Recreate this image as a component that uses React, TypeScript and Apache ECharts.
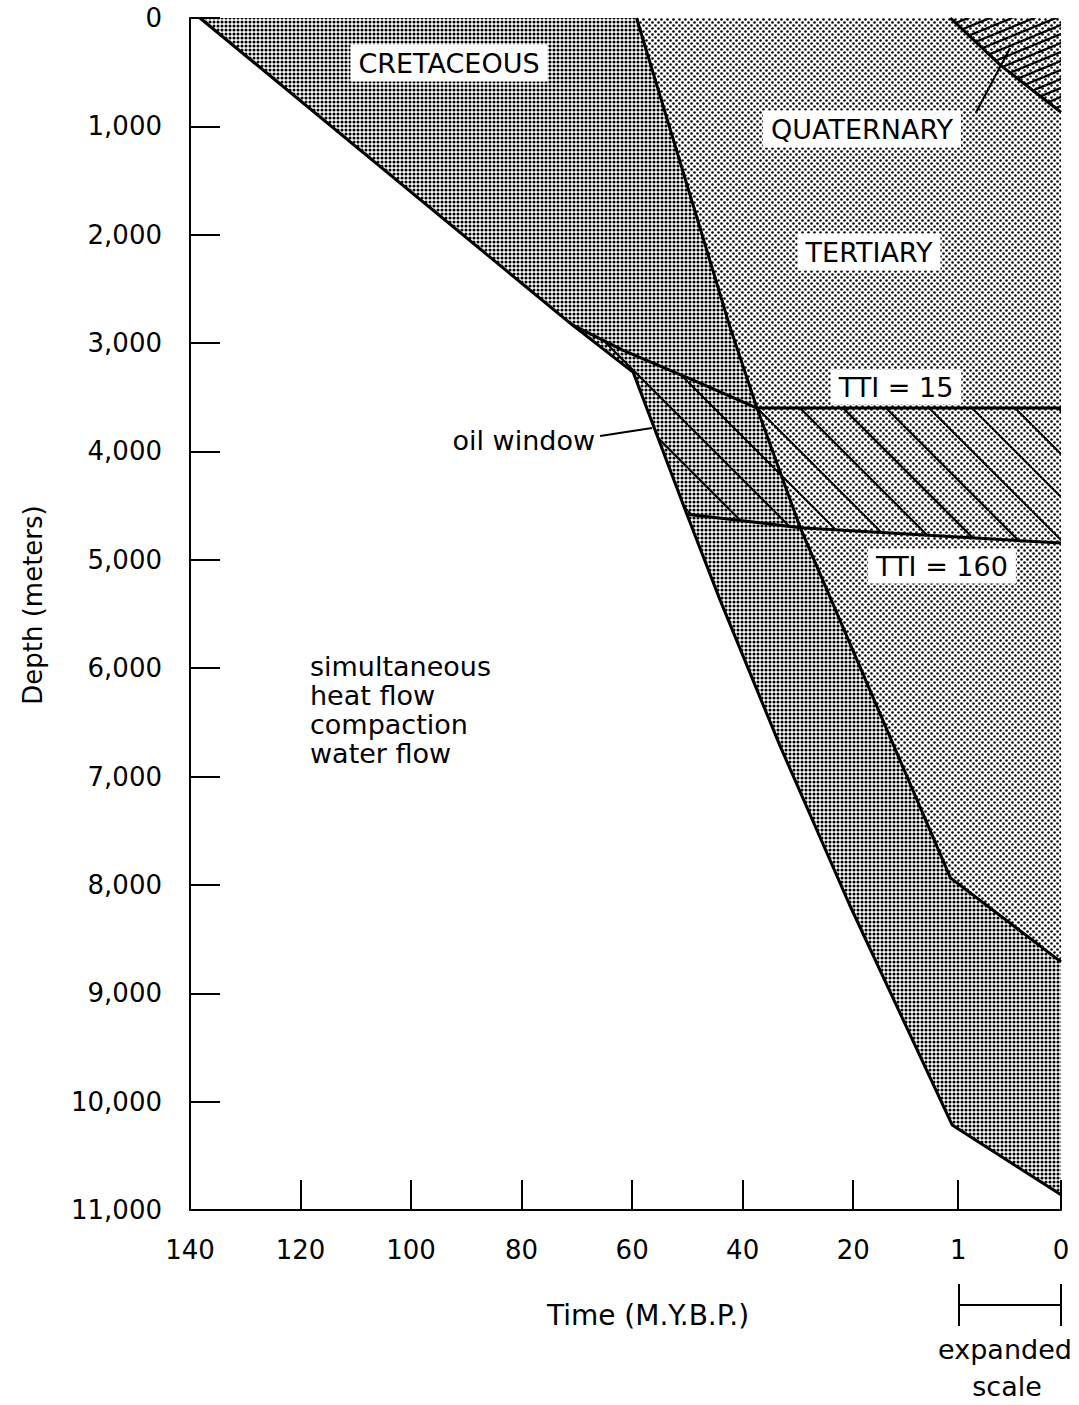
import React, { useEffect, useRef } from 'react';
import * as echarts from 'echarts';

const W = 1079;
const H = 1405;
const FONT = '"DejaVu Sans", sans-serif';
const EXP = 18.6; // stretch of the expanded last 1 My (in linear-My units)

// ---- axis ticks ----
const xTickTimes = [140, 120, 100, 80, 60, 40, 20, 1, 0];
const depthMin = 0;
const depthMax = 11000;
const depthInterval = 1000;

// ---- burial curves: [time (M.Y.B.P.), depth (m)] ----
const baseCretaceous = [
  [138.2, 0], [70.9, 2830], [59.8, 3270], [55.5, 3850], [50.1, 4580],
  [44.1, 5370], [33.3, 6710], [20.6, 8190], [2.1, 10215], [0, 10860],
];
const baseTertiary = [
  [59.2, 0], [42.3, 2850], [37.4, 3600], [29.6, 4700], [2.4, 7935], [0, 8710],
];
const baseQuaternary = [[2.4, 0], [0.59, 435], [0, 870]];
const tti15 = [[70.9, 2830], [61.7, 3065], [47.7, 3370], [37.4, 3600], [0, 3600]];
const tti160 = [[50.1, 4580], [38.1, 4650], [29.6, 4705], [0, 4845]];
const oilLeader = [[65.8, 3857], [56.4, 3783]];
const quatLeader = [[0.83, 877], [0.495, 277]];

const toX = (t: number) => (t >= 1 ? 140 - t : 139 + (1 - t) * EXP);
const X_MAX = toX(0);

function makePattern(w: number, h: number, draw: (ctx: CanvasRenderingContext2D) => void) {
  const c = document.createElement('canvas');
  c.width = w;
  c.height = h;
  const ctx = c.getContext('2d') as CanvasRenderingContext2D;
  draw(ctx);
  return { image: c, repeat: 'repeat', imageWidth: w, imageHeight: h } as any;
}

export default function App() {
  const ref = useRef<HTMLDivElement>(null);
  useEffect(() => {
    if (!ref.current) return;
    const chart = echarts.init(ref.current, undefined, { renderer: 'svg' });

    const denseDots = makePattern(4, 4, (ctx) => {
      ctx.fillStyle = '#000';
      ctx.beginPath();
      ctx.arc(2, 2, 1.55, 0, Math.PI * 2);
      ctx.fill();
    });
    const lightDots = makePattern(6, 6, (ctx) => {
      ctx.fillStyle = '#000';
      ctx.beginPath();
      ctx.arc(1.5, 1.5, 1.3, 0, Math.PI * 2);
      ctx.fill();
      ctx.beginPath();
      ctx.arc(4.5, 4.5, 1.3, 0, Math.PI * 2);
      ctx.fill();
    });
    const quatHatch = makePattern(22, 9, (ctx) => {
      ctx.strokeStyle = '#000';
      ctx.lineWidth = 2.2;
      for (let k = -1; k <= 1; k++) {
        ctx.beginPath();
        ctx.moveTo(0, 9 + 9 * k);
        ctx.lineTo(22, 9 * k);
        ctx.stroke();
      }
    });
    const oilHatch = makePattern(43, 43, (ctx) => {
      ctx.strokeStyle = '#000';
      ctx.lineWidth = 2;
      for (let k = -2; k <= 1; k++) {
        const c = 38 + 43 * k;
        ctx.beginPath();
        ctx.moveTo(0, c);
        ctx.lineTo(43, 43 + c);
        ctx.stroke();
      }
    });

    const polySeries = (pts: number[][], fill: any, z: number) => ({
      type: 'custom',
      coordinateSystem: 'cartesian2d',
      data: [[0, 0]],
      z,
      silent: true,
      clip: false,
      renderItem: (_p: any, api: any) => ({
        type: 'polygon',
        shape: { points: pts.map((p) => api.coord([toX(p[0]), p[1]])) },
        style: { fill, stroke: null },
      }),
    });

    const lineSeries = (pts: number[][], width = 3) => ({
      type: 'line',
      data: pts.map((p) => [toX(p[0]), p[1]]),
      symbol: 'none',
      silent: true,
      z: 10,
      lineStyle: { color: '#000', width },
    });

    const tertiaryPoly = [...baseTertiary, [0, 0]];
    const cretPoly = [...baseTertiary, ...baseCretaceous.slice().reverse()];
    const quatPoly = [...baseQuaternary, [0, 0]];
    const tLow = tti160[0][0];
    const tHigh = tti15[0][0];
    const basementMid = baseCretaceous
      .filter((p) => p[0] > tLow && p[0] < tHigh)
      .sort((a, b) => a[0] - b[0]);
    const oilPoly = [...tti15, ...tti160.slice().reverse(), ...basementMid];

    const xTickVals = xTickTimes.map(toX);
    const xLabel = (v: number) => {
      let best = 0;
      xTickVals.forEach((tv, i) => {
        if (Math.abs(tv - v) < Math.abs(xTickVals[best] - v)) best = i;
      });
      return String(xTickTimes[best]);
    };

    const txt = (text: string, x: number, y: number, o: any = {}) => ({
      type: 'text',
      z: 100,
      x,
      y,
      rotation: o.rot || 0,
      style: {
        text,
        x: 0,
        y: 0,
        fill: '#000',
        fontSize: o.size || 27,
        fontFamily: FONT,
        textAlign: o.align || 'center',
        verticalAlign: o.va || 'middle',
        backgroundColor: o.bg,
        padding: o.pad,
        lineHeight: o.lh,
      },
    });
    const seg = (x1: number, y1: number, x2: number, y2: number) => ({
      type: 'line',
      z: 100,
      shape: { x1, y1, x2, y2 },
      style: { stroke: '#000', lineWidth: 2 },
    });

    chart.setOption({
      animation: false,
      backgroundColor: '#fff',
      grid: { left: 190, right: W - 1061, top: 18, bottom: H - 1210, containLabel: false },
      xAxis: {
        type: 'value',
        min: 0,
        max: X_MAX,
        axisLine: { show: true, onZero: false, lineStyle: { color: '#000', width: 2 } },
        axisTick: {
          show: true,
          inside: true,
          length: 30,
          customValues: xTickVals,
          lineStyle: { color: '#000', width: 2 },
        },
        axisLabel: {
          customValues: xTickVals,
          formatter: xLabel,
          margin: 27,
          fontSize: 26,
          fontFamily: FONT,
          color: '#000',
        },
        splitLine: { show: false },
      },
      yAxis: {
        type: 'value',
        inverse: true,
        min: depthMin,
        max: depthMax,
        interval: depthInterval,
        axisLine: { show: true, onZero: false, lineStyle: { color: '#000', width: 2 } },
        axisTick: { show: true, inside: true, length: 30, lineStyle: { color: '#000', width: 2 } },
        axisLabel: {
          margin: 28,
          fontSize: 26,
          fontFamily: FONT,
          color: '#000',
          formatter: (v: number) => v.toLocaleString('en-US'),
        },
        splitLine: { show: false },
      },
      series: [
        polySeries(tertiaryPoly, lightDots, 1),
        polySeries(cretPoly, denseDots, 2),
        polySeries(quatPoly, quatHatch, 3),
        polySeries(oilPoly, oilHatch, 4),
        lineSeries(baseCretaceous),
        lineSeries(baseTertiary),
        lineSeries(baseQuaternary),
        lineSeries(tti15),
        lineSeries(tti160),
        lineSeries(oilLeader, 2),
        lineSeries(quatLeader, 2),
      ],
      graphic: [
        txt('CRETACEOUS', 449, 63, { bg: '#fff', pad: [6, 8, 4, 8] }),
        txt('QUATERNARY', 862, 129, { bg: '#fff', pad: [6, 8, 4, 8] }),
        txt('TERTIARY', 869, 252, { bg: '#fff', pad: [6, 8, 4, 8] }),
        txt('TTI = 15', 896, 387, { bg: '#fff', pad: [5, 8, 3, 8] }),
        txt('TTI = 160', 942, 566, { bg: '#fff', pad: [5, 8, 3, 8] }),
        txt('oil window', 595, 440, { align: 'right' }),
        txt('simultaneous\nheat flow\ncompaction\nwater flow', 310, 652, {
          align: 'left',
          va: 'top',
          lh: 29,
        }),
        txt('Depth (meters)', 33, 605, { rot: Math.PI / 2, size: 26 }),
        txt('Time (M.Y.B.P.)', 648, 1315, { size: 28 }),
        txt('expanded', 1005, 1349),
        txt('scale', 1007, 1386),
        seg(959, 1284, 959, 1326),
        seg(1061, 1284, 1061, 1326),
        seg(959, 1305, 1061, 1305),
      ],
    });
    return () => chart.dispose();
  }, []);
  return (
    <div
      ref={ref}
      style={{ position: 'absolute', left: 0, top: 0, width: W, height: H, background: '#fff' }}
    />
  );
}
